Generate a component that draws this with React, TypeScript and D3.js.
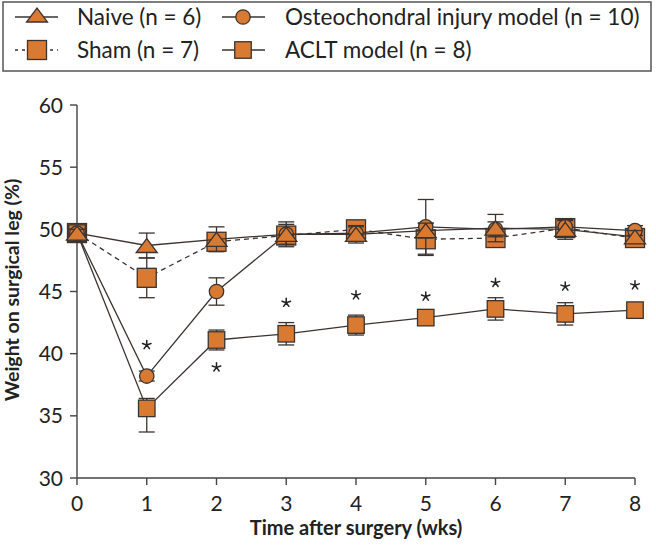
import React from "react";
import * as d3 from "d3";

const weeks = [0, 1, 2, 3, 4, 5, 6, 7, 8];
const naive = [49.7, 48.7, 49.2, 49.6, 49.6, 49.9, 50.1, 50.0, 49.4];
const naiveErr = [0.3, 1.0, 1.0, 0.8, 0.7, 0.6, 1.1, 0.8, 0.5];
const osteo = [49.7, 38.2, 45.0, 49.6, 49.7, 50.2, 50.0, 50.2, 49.9];
const osteoErr = [0.3, 0.4, 1.1, 1.0, 0.5, 2.2, 0.6, 0.5, 0.4];
const sham = [49.7, 46.1, 49.0, 49.5, 50.0, 49.2, 49.3, 50.1, 49.3];
const shamErr = [0.3, 1.6, 0.5, 0.6, 0.5, 1.3, 0.5, 0.5, 0.4];
const aclt = [49.7, 35.6, 41.1, 41.6, 42.3, 42.9, 43.6, 43.2, 43.5];
const acltErrHigh = [0.3, 0.8, 0.8, 0.9, 0.8, 0.3, 0.9, 0.9, 0.3];
const acltErrLow = [0.3, 1.9, 0.8, 0.9, 0.8, 0.3, 0.9, 0.9, 0.3];
const asteriskAt: (number | null)[] = [null, 40.7, 38.9, 44.1, 44.7, 44.6, 45.7, 45.4, 45.5];
const yTicks = [30, 35, 40, 45, 50, 55, 60];
const xTicks = [0, 1, 2, 3, 4, 5, 6, 7, 8];

const legendLabels = {
  naive: "Naive (n = 6)",
  osteo: "Osteochondral injury model (n = 10)",
  sham: "Sham (n = 7)",
  aclt: "ACLT model (n = 8)",
};

const FILL = "#D97A33";
const STROKE = "#3a3330";
const FONT = "Lato, 'Open Sans', sans-serif";

const x = d3.scaleLinear().domain([0, 8]).range([77, 635]);
const y = d3.scaleLinear().domain([30, 60]).range([478, 105]);

function Marker({ kind, cx, cy }: { kind: string; cx: number; cy: number }) {
  if (kind === "circle")
    return <circle cx={cx} cy={cy} r={7.2} fill={FILL} stroke={STROKE} strokeWidth={1.3} />;
  if (kind === "tri") {
    const w = 21, h = 14;
    const p = `M${cx - w / 2},${cy + h * 0.5} L${cx + w / 2},${cy + h * 0.5} L${cx},${cy - h * 0.5} Z`;
    return <path d={p} fill={FILL} stroke={STROKE} strokeWidth={1.3} />;
  }
  const s = kind === "bigsq" ? 19 : 16.5;
  return <rect x={cx - s / 2} y={cy - s / 2} width={s} height={s} fill={FILL} stroke={STROKE} strokeWidth={1.3} />;
}

function Asterisk({ cx, cy }: { cx: number; cy: number }) {
  const r = 4.5;
  let d = "";
  for (let k = 0; k < 5; k++) {
    const a = -Math.PI / 2 + (k * 2 * Math.PI) / 5;
    d += `M${cx},${cy} L${cx + r * Math.cos(a)},${cy + r * Math.sin(a)} `;
  }
  return <path d={d} stroke="#222" strokeWidth={1.5} fill="none" strokeLinecap="round" />;
}

function Series({ vals, errHi, errLo, kind, dashed }: { vals: number[]; errHi: number[]; errLo: number[]; kind: string; dashed?: boolean }) {
  const line = d3.line<number>().x((_, i) => x(weeks[i])).y((d) => y(d));
  return (
    <g>
      <path d={line(vals) || ""} fill="none" stroke={STROKE} strokeWidth={1.3} strokeDasharray={dashed ? "5,4" : undefined} />
      {vals.map((v, i) => {
        const cx = x(weeks[i]);
        const y1 = y(v + errHi[i]);
        const y2 = y(v - errLo[i]);
        return (
          <g key={i}>
            <line x1={cx} x2={cx} y1={y1} y2={y2} stroke={STROKE} strokeWidth={1.3} />
            <line x1={cx - 8} x2={cx + 8} y1={y1} y2={y1} stroke={STROKE} strokeWidth={1.3} />
            <line x1={cx - 8} x2={cx + 8} y1={y2} y2={y2} stroke={STROKE} strokeWidth={1.3} />
          </g>
        );
      })}
      {vals.map((v, i) => (
        <Marker key={"m" + i} kind={kind} cx={x(weeks[i])} cy={y(v)} />
      ))}
    </g>
  );
}

export default function App() {
  return (
    <svg width={656} height={545} style={{ position: "absolute", left: 0, top: 0, background: "#fff" }}>
      {/* legend */}
      <rect x={3} y={2} width={648} height={69} fill="#fff" stroke="#555" strokeWidth={1.5} />
      <g fontFamily={FONT} fontSize={22.5} fill="#222">
        <line x1={15} x2={58} y1={17} y2={17} stroke={STROKE} strokeWidth={1.3} />
        <Marker kind="tri" cx={37} cy={15} />
        <text x={77} y={25}>{legendLabels.naive}</text>
        <line x1={222} x2={265} y1={17} y2={17} stroke={STROKE} strokeWidth={1.3} />
        <Marker kind="circle" cx={243} cy={17} />
        <text x={285} y={25}>{legendLabels.osteo}</text>
        <line x1={15} x2={58} y1={50} y2={50} stroke={STROKE} strokeWidth={1.3} strokeDasharray="3,4" />
        <Marker kind="bigsq" cx={37} cy={50} />
        <text x={77} y={58}>{legendLabels.sham}</text>
        <line x1={222} x2={265} y1={50} y2={50} stroke={STROKE} strokeWidth={1.3} />
        <Marker kind="sq" cx={243} cy={50} />
        <text x={285} y={58}>{legendLabels.aclt}</text>
      </g>

      {/* axes */}
      <g stroke="#444" strokeWidth={1.4}>
        <line x1={77} x2={77} y1={y(60)} y2={y(30)} />
        <line x1={77} x2={635} y1={478} y2={478} />
        {yTicks.map((t) => (
          <line key={t} x1={70} x2={77} y1={y(t)} y2={y(t)} />
        ))}
        {xTicks.map((t) => (
          <line key={t} x1={x(t)} x2={x(t)} y1={478} y2={485} />
        ))}
      </g>
      <g fontFamily={FONT} fontSize={21} fill="#222">
        {yTicks.map((t) => (
          <text key={t} x={63} y={y(t) + 7.5} textAnchor="end">{t}</text>
        ))}
        {xTicks.map((t) => (
          <text key={t} x={x(t)} y={511} textAnchor="middle">{t}</text>
        ))}
      </g>
      <text x={356} y={535} textAnchor="middle" fontFamily={FONT} fontWeight="bold" fontSize={20} fill="#222">
        Time after surgery (wks)
      </text>
      <text transform="translate(19,290) rotate(-90)" textAnchor="middle" fontFamily={FONT} fontWeight="bold" fontSize={19.5} fill="#222">
        Weight on surgical leg (%)
      </text>

      {/* series */}
      <Series vals={sham} errHi={shamErr} errLo={shamErr} kind="bigsq" dashed />
      <Series vals={aclt} errHi={acltErrHigh} errLo={acltErrLow} kind="sq" />
      <Series vals={osteo} errHi={osteoErr} errLo={osteoErr} kind="circle" />
      <Series vals={naive} errHi={naiveErr} errLo={naiveErr} kind="tri" />

      {/* asterisks */}
      {asteriskAt.map((a, i) =>
        a === null ? null : <Asterisk key={i} cx={x(weeks[i])} cy={y(a)} />
      )}
    </svg>
  );
}
